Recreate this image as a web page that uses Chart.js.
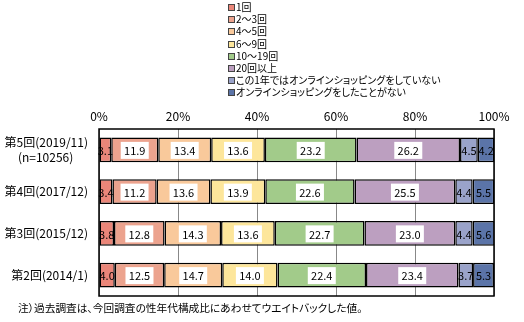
<!DOCTYPE html>
<html>
<head>
<meta charset="utf-8">
<script src="https://cdn.jsdelivr.net/npm/chart.js@4.4.1/dist/chart.umd.min.js"></script>
<style>
  body { margin: 0; background: #fff; }
  #wrap { position: relative; width: 524px; height: 322px; font-family: "Noto Sans CJK JP", sans-serif; }
  #legend { position: absolute; left: 228px; top: 1px; font-size: 10px; line-height: 12.2px; color: #000; font-feature-settings: "palt"; }
  #legend div { white-space: nowrap; }
  #legend span { display: inline-block; width: 5px; height: 5px; border: 1px solid #444; margin-right: 1px; vertical-align: 0px; }
  #note { position: absolute; left: 18px; top: 300px; font-size: 10.7px; font-feature-settings: "palt"; white-space: nowrap; }
</style>
</head>
<body>
<div id="wrap">
  <canvas id="chart"></canvas>
  <div id="legend"></div>
  <div id="note">注）過去調査は、今回調査の性年代構成比にあわせてウエイトバックした値。</div>
</div>
<script>
var rounds = [['第5回(2019/11)', '(n=10256)\u3000 '], '第4回(2017/12)', '第3回(2015/12)', '第2回(2014/1)'];
var seriesNames = ['1回', '2〜3回', '4〜5回', '6〜9回', '10〜19回', '20回以上', 'この1年ではオンラインショッピングをしていない', 'オンラインショッピングをしたことがない'];
var seriesColors = ['#EA8679', '#ECA38E', '#F9C99B', '#FDE69B', '#A2CB8A', '#BC9FC0', '#9AA3CA', '#5B74A8'];
var once = [3.1, 3.4, 3.8, 4.0];
var twoToThree = [11.9, 11.2, 12.8, 12.5];
var fourToFive = [13.4, 13.6, 14.3, 14.7];
var sixToNine = [13.6, 13.9, 13.6, 14.0];
var tenToNineteen = [23.2, 22.6, 22.7, 22.4];
var twentyPlus = [26.2, 25.5, 23.0, 23.4];
var notThisYear = [4.5, 4.4, 4.4, 3.7];
var never = [4.2, 5.5, 5.6, 5.3];
var tickValues = [0, 20, 40, 60, 80, 100];

var values = [once, twoToThree, fourToFive, sixToNine, tenToNineteen, twentyPlus, notThisYear, never];

var legend = document.getElementById('legend');
seriesNames.forEach(function (name, i) {
    var row = document.createElement('div');
    var box = document.createElement('span');
    box.style.background = seriesColors[i];
    row.appendChild(box);
    row.appendChild(document.createTextNode(name));
    legend.appendChild(row);
});

var frame = {
    id: 'frame',
    afterDatasetsDraw: function (chart) {
        var ctx = chart.ctx, a = chart.chartArea;
        ctx.save();
        ctx.strokeStyle = '#000';
        ctx.lineWidth = 1.5;
        ctx.strokeRect(a.left, a.top, a.right - a.left, a.bottom - a.top);
        ctx.restore();
    }
};

var valueLabels = {
    id: 'valueLabels',
    afterDatasetsDraw: function (chart) {
        var ctx = chart.ctx;
        ctx.save();
        ctx.font = '11px "Noto Sans CJK JP"';
        ctx.textAlign = 'center';
        ctx.textBaseline = 'middle';
        chart.data.datasets.forEach(function (ds, di) {
            chart.getDatasetMeta(di).data.forEach(function (el, i) {
                var v = ds.data[i];
                var cx = (el.x + el.base) / 2, cy = el.y;
                if (v >= 10) {
                    ctx.fillStyle = '#fff';
                    ctx.fillRect(cx - 14, cy - 8, 28, 17);
                }
                ctx.fillStyle = '#000';
                ctx.fillText(v.toFixed(1), cx, cy + 1);
            });
        });
        ctx.restore();
    }
};

var ctx = document.getElementById('chart').getContext('2d');
var chart = new Chart(ctx, {
    type: 'bar',
    data: {
        labels: rounds,
        datasets: values.map(function (d, i) {
            return {
                label: seriesNames[i],
                data: d,
                backgroundColor: seriesColors[i],
                borderColor: '#000',
                borderWidth: 1.5,
                borderSkipped: false,
                barPercentage: 0.59,
                categoryPercentage: 1
            };
        })
    },
    options: {
        indexAxis: 'y',
        responsive: true,
        maintainAspectRatio: false,
        animation: false,
        layout: { padding: { left: 0, right: 30, top: 100, bottom: 23 } },
        plugins: {
            legend: { display: false },
            tooltip: { enabled: false }
        },
        scales: {
            x: {
                position: 'top',
                stacked: true,
                min: 0,
                max: 100,
                afterBuildTicks: function (scale) {
                    scale.ticks = tickValues.map(function (v) { return { value: v }; });
                },
                afterFit: function (scale) { scale.height = 29; },
                grid: { color: '#888', lineWidth: 1, drawTicks: false },
                border: { display: false },
                ticks: {
                    padding: 5,
                    color: '#000',
                    font: { family: 'Noto Sans CJK JP', size: 12 },
                    callback: function (v) { return v + '%'; }
                }
            },
            y: {
                stacked: true,
                afterFit: function (scale) { scale.width = 99; },
                grid: { display: false, drawTicks: false },
                border: { display: false },
                ticks: {
                    padding: 11,
                    color: '#000',
                    font: { family: 'Noto Sans CJK JP', size: 12, lineHeight: 1.25 }
                }
            }
        }
    },
    plugins: [frame, valueLabels]
});
</script>
</body>
</html>
